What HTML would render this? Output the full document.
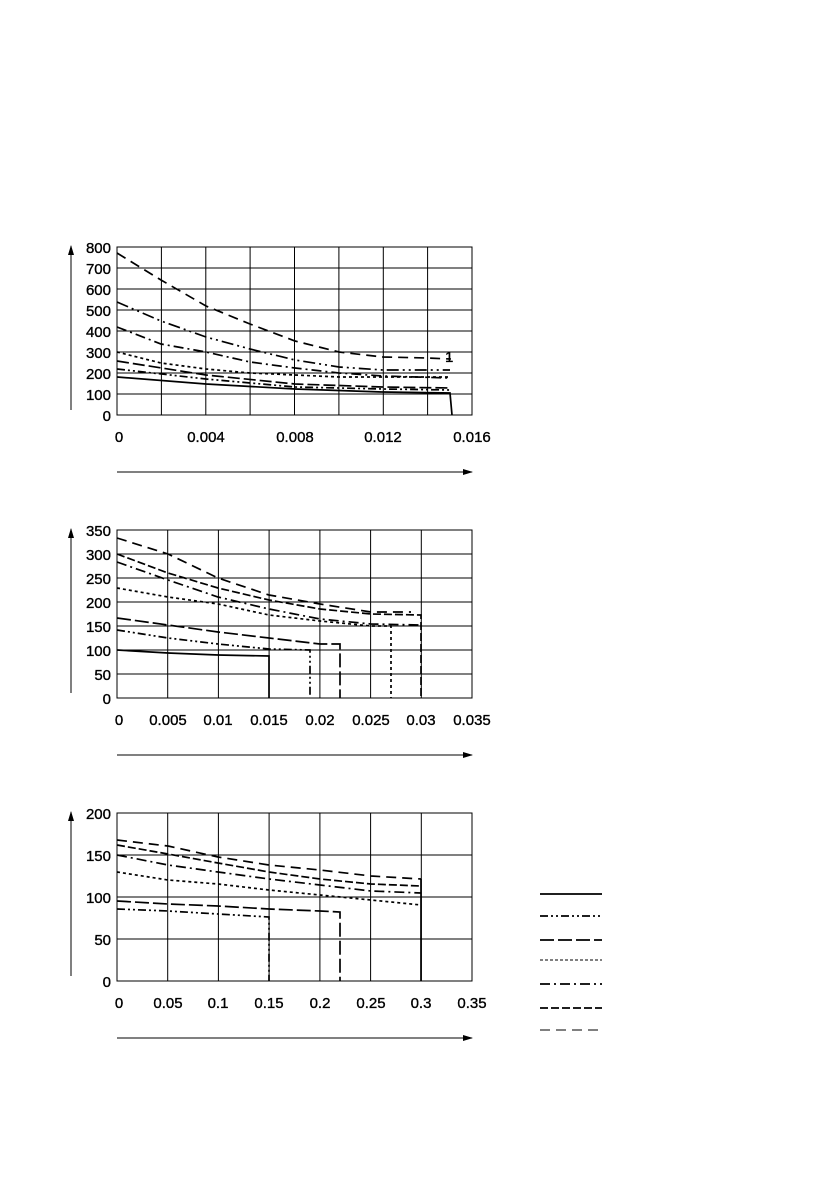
<!DOCTYPE html>
<html><head><meta charset="utf-8"><style>
body{margin:0;background:#fff}
svg text{font-family:"Liberation Sans",sans-serif;font-size:15px;fill:#000;stroke:#000;stroke-width:0.35}
</style></head><body>
<svg width="840" height="1193" viewBox="0 0 840 1193" xmlns="http://www.w3.org/2000/svg">
<defs><marker id="ah" markerWidth="10" markerHeight="6" refX="9" refY="3" orient="auto"><path d="M0,0 L10,3 L0,6z" fill="#000"/></marker></defs>
<g stroke="#000" fill="none" stroke-width="1">
<rect x="117" y="247" width="355" height="168"/>
<path d="M161.4,247V415M205.8,247V415M250.1,247V415M294.5,247V415M338.9,247V415M383.3,247V415M427.6,247V415M117,268H472M117,289H472M117,310H472M117,331H472M117,352H472M117,373H472M117,394H472"/>
<line x1="71" y1="410" x2="71" y2="246" marker-end="url(#ah)"/>
<line x1="117" y1="472" x2="472" y2="472" marker-end="url(#ah)"/>
<rect x="117" y="530" width="355" height="168"/>
<path d="M167.7,530V698M218.4,530V698M269.1,530V698M319.9,530V698M370.6,530V698M421.3,530V698M117,554H472M117,578H472M117,602H472M117,626H472M117,650H472M117,674H472"/>
<line x1="71" y1="693" x2="71" y2="529" marker-end="url(#ah)"/>
<line x1="117" y1="755" x2="472" y2="755" marker-end="url(#ah)"/>
<rect x="117" y="813" width="355" height="168"/>
<path d="M167.7,813V981M218.4,813V981M269.1,813V981M319.9,813V981M370.6,813V981M421.3,813V981M117,855H472M117,897H472M117,939H472"/>
<line x1="71" y1="976" x2="71" y2="812" marker-end="url(#ah)"/>
<line x1="117" y1="1038" x2="472" y2="1038" marker-end="url(#ah)"/>
</g>
<g stroke="#000" fill="none" stroke-width="1.7">
<polyline stroke-dasharray="10,6" points="117,253 161,280 206,306 250,324 295,341 339,352 383,357 428,358 450,359 450,358"/>
<polyline stroke-dasharray="12,4,2,4,2,4" points="117,302 161,321 206,337 250,349 295,360 339,367 383,370 450,370"/>
<polyline stroke-dasharray="10,4,2,4" points="117,327 161,344 206,352 250,362 295,368 339,373 383,376 450,378"/>
<polyline stroke-dasharray="3,3" points="117,352 161,363 206,369 250,373 295,375 339,377 450,377"/>
<polyline stroke-dasharray="12,4" points="117,361 206,375 295,384 383,387 450,388"/>
<polyline stroke-dasharray="8,3,2,3,2,3" points="117,369 206,379 295,387 383,389 450,390"/>
<polyline points="117,377 206,384 295,389 383,392 450,393 452,415"/>
<polyline stroke-dasharray="10,6" points="117,538 168,554 218,578 269,595 320,604 371,612 411,612"/>
<polyline stroke-dasharray="8,3" points="117,554 168,573 218,588 269,600 320,609 371,614 421,615 421,698"/>
<polyline stroke-dasharray="10,4,2,4" points="117,562 168,580 218,597 269,609 320,619 371,624 421,625"/>
<polyline stroke-dasharray="3,3" points="117,588 168,597 218,604 269,615 320,621 371,626 391,626 391,698"/>
<polyline stroke-dasharray="14,4" points="117,618 168,625 218,632 269,638 320,644 340,644 340,698"/>
<polyline stroke-dasharray="8,3,2,3,2,3" points="117,630 168,638 218,644 269,649 310,650 310,698"/>
<polyline points="117,650 168,653 218,655 269,656 269,698"/>
<polyline stroke-dasharray="10,6" points="117,840 168,846 218,857 269,865 320,870 371,876 421,879"/>
<polyline stroke-dasharray="8,3" points="117,845 168,854 218,863 269,872 320,879 371,884 421,886"/>
<polyline stroke-dasharray="10,4,2,4" points="117,855 168,865 218,872 269,879 320,885 371,891 421,893"/>
<polyline stroke-dasharray="3,3" points="117,872 168,880 218,884 269,890 320,895 371,900 421,905"/>
<polyline stroke-dasharray="14,4" points="117,901 168,904 218,906 269,909 320,911 340,912 340,981"/>
<polyline stroke-dasharray="8,3,2,3,2,3" points="117,909 168,911 218,914 269,917 269,981"/>
<line x1="421" y1="879" x2="421" y2="981"/>
<line x1="540" y1="894" x2="602" y2="894"/>
<line x1="540" y1="916" x2="602" y2="916" stroke-dasharray="8,3,2,3,2,3"/>
<line x1="540" y1="940" x2="602" y2="940" stroke-dasharray="14,4"/>
<line x1="540" y1="960" x2="602" y2="960" stroke-dasharray="3,2" stroke-width="1"/>
<line x1="540" y1="984" x2="602" y2="984" stroke-dasharray="10,4,2,4"/>
<line x1="540" y1="1008" x2="602" y2="1008" stroke-dasharray="8,3"/>
<line x1="540" y1="1030" x2="602" y2="1030" stroke-dasharray="10,6" stroke-width="1"/>
</g>
<text x="445" y="362" font-size="12">1</text>
<g text-anchor="end">
<text x="111" y="253">800</text><text x="111" y="274">700</text><text x="111" y="295">600</text><text x="111" y="316">500</text><text x="111" y="337">400</text><text x="111" y="358">300</text><text x="111" y="379">200</text><text x="111" y="400">100</text><text x="111" y="421">0</text>
<text x="111" y="536">350</text><text x="111" y="560">300</text><text x="111" y="584">250</text><text x="111" y="608">200</text><text x="111" y="632">150</text><text x="111" y="656">100</text><text x="111" y="680">50</text><text x="111" y="704">0</text>
<text x="111" y="819">200</text><text x="111" y="861">150</text><text x="111" y="903">100</text><text x="111" y="945">50</text><text x="111" y="987">0</text>
</g>
<g text-anchor="middle">
<text x="119" y="442">0</text><text x="206" y="442">0.004</text><text x="295" y="442">0.008</text><text x="383" y="442">0.012</text><text x="472" y="442">0.016</text>
<text x="119" y="725">0</text><text x="168" y="725">0.005</text><text x="218" y="725">0.01</text><text x="269" y="725">0.015</text><text x="320" y="725">0.02</text><text x="371" y="725">0.025</text><text x="421" y="725">0.03</text><text x="472" y="725">0.035</text>
<text x="119" y="1008">0</text><text x="168" y="1008">0.05</text><text x="218" y="1008">0.1</text><text x="269" y="1008">0.15</text><text x="320" y="1008">0.2</text><text x="371" y="1008">0.25</text><text x="421" y="1008">0.3</text><text x="472" y="1008">0.35</text>
</g>
</svg>
</body></html>
